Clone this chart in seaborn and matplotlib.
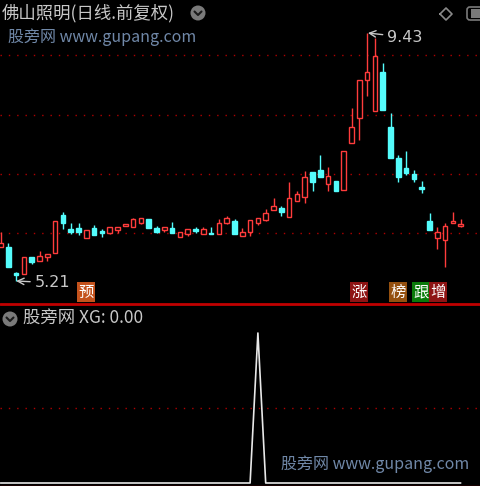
import numpy as np
import pandas as pd
import matplotlib
matplotlib.use("Agg")
import matplotlib.pyplot as plt
from matplotlib.patches import Ellipse, Rectangle, FancyBboxPatch
from matplotlib.lines import Line2D
import seaborn as sns

# Daily OHLC for 佛山照明 (forward-adjusted)
opens = [5.79, 5.79, 5.35, 5.33, 5.62, 5.55, 5.62, 5.68, 6.33, 6.09,
         6.11, 5.94, 6.11, 6.06, 6.03, 6.08, 6.15, 6.13, 6.20, 6.27,
         6.11, 6.08, 6.11, 5.96, 6.01, 6.09, 6.01, 6.03, 6.01, 6.20,
         6.23, 5.98, 6.04, 6.20, 6.25, 6.42, 6.45, 6.30, 6.57, 6.64,
         7.06, 7.10, 6.86, 6.91, 6.76, 7.56, 7.98, 8.63, 8.10, 8.77,
         7.83, 7.30, 7.13, 7.03, 6.81, 6.23, 5.94, 5.91, 6.20, 6.15]
highs = [6.04, 5.86, 5.36, 5.62, 5.62, 5.72, 5.67, 6.23, 6.38, 6.20,
         6.20, 6.08, 6.16, 6.09, 6.13, 6.13, 6.18, 6.28, 6.28, 6.27,
         6.15, 6.13, 6.21, 6.04, 6.09, 6.13, 6.13, 6.13, 6.27, 6.32,
         6.27, 6.11, 6.25, 6.28, 6.43, 6.62, 6.49, 6.89, 6.74, 7.08,
         7.06, 7.35, 7.15, 6.91, 7.42, 8.15, 8.63, 9.43, 9.34, 8.92,
         8.07, 7.35, 7.42, 7.10, 6.91, 6.37, 6.13, 6.20, 6.38, 6.27]
lows = [5.79, 5.45, 5.21, 5.33, 5.50, 5.55, 5.55, 5.68, 6.09, 6.01,
        5.99, 5.94, 5.99, 5.96, 6.01, 6.03, 6.15, 6.13, 6.18, 6.11,
        6.03, 6.04, 6.03, 5.96, 5.98, 6.03, 6.01, 6.01, 6.01, 6.18,
        6.01, 5.98, 5.98, 6.16, 6.23, 6.42, 6.32, 6.30, 6.57, 6.54,
        6.74, 6.98, 6.74, 6.74, 6.76, 7.56, 7.61, 8.36, 8.10, 8.12,
        7.30, 6.89, 7.01, 6.89, 6.71, 6.08, 5.76, 5.45, 6.20, 6.13]
closes = [5.86, 5.45, 5.31, 5.62, 5.53, 5.63, 5.67, 6.23, 6.20, 6.04,
          6.04, 6.08, 5.99, 6.03, 6.13, 6.13, 6.18, 6.27, 6.28, 6.11,
          6.04, 6.13, 6.03, 6.04, 6.09, 6.06, 6.09, 6.01, 6.20, 6.28,
          6.01, 6.04, 6.25, 6.28, 6.37, 6.49, 6.38, 6.62, 6.69, 6.98,
          6.89, 6.98, 7.00, 6.74, 7.42, 7.83, 8.63, 8.77, 9.04, 8.12,
          7.30, 6.98, 7.05, 6.95, 6.78, 6.08, 6.04, 6.15, 6.23, 6.18]

# XG signal line
xg = [0] * 60
xg[33] = 1

# Event tags below the candles: (day, label, colour)
tag_days = [11, 46, 51, 53.9, 56.1]
tag_texts = ["预", "涨", "榜", "跟", "增"]
tag_colors = ["#c4521c", "#8e1414", "#94500f", "#0a7a0a", "#8e1414"]

grid_prices = [9.06, 8.04, 7.03, 6.03]

UP = "#ff3c3c"
DOWN = "#54fcfc"
GRID = "#b00000"
TXT = "#c8c8c8"
WM = "#7088a8"

sns.set_style("dark", {"axes.facecolor": "black", "figure.facecolor": "black"})
plt.rcParams["font.family"] = ["Noto Sans CJK SC", "DejaVu Sans"]

W, H = 480, 486
fig = plt.figure(figsize=(W / 100, H / 100), dpi=100, facecolor="black")


def fx(x):
    return x / W


def fy(y):
    return 1 - y / H


# ---------- price panel ----------
ax = fig.add_axes([0, fy(303), 1, 303 / H])
ax.set_facecolor("black")
x0 = -0.5 / 7.8
ax.set_xlim(x0, x0 + W / 7.8)
ax.set_ylim(9.9915 - 0.017016 * 303, 9.9915)
ax.axis("off")

for p in grid_prices:
    ax.axhline(p, color=GRID, lw=1.0, ls=(0, (1, 5)), zorder=0)

df = pd.DataFrame({"day": np.arange(len(opens)), "open": opens, "high": highs,
                   "low": lows, "close": closes})
for r in df.itertuples():
    up = r.close >= r.open
    col = UP if up else DOWN
    ax.vlines(r.day, r.low, r.high, color=col, lw=1.0, zorder=1)
    lo, hi = min(r.open, r.close), max(r.open, r.close)
    h = max(hi - lo, 0.02)
    ax.bar(r.day, h, bottom=lo, width=0.6,
           facecolor="black" if up else col, edgecolor=col, lw=1.0, zorder=2)

# high / low markers
ax.annotate("9.43", xy=(47.1, 9.43), xytext=(49.6, 9.36), color=TXT,
            fontsize=11.5, fontfamily="DejaVu Sans", va="center", ha="left",
            arrowprops=dict(arrowstyle="->", color=TXT, lw=1.0,
                            shrinkA=1, shrinkB=0))
ax.annotate("5.21", xy=(2.0, 5.21), xytext=(4.4, 5.18), color=TXT,
            fontsize=11.5, fontfamily="DejaVu Sans", va="center", ha="left",
            arrowprops=dict(arrowstyle="->", color=TXT, lw=1.0,
                            shrinkA=1, shrinkB=0))

# event tags
ytag = 9.9915 - 0.017016 * 292
for d, s, c in zip(tag_days, tag_texts, tag_colors):
    ax.text(d, ytag, s, color="white", fontsize=11, ha="center", va="center",
            bbox=dict(boxstyle="square,pad=0.08", fc=c, ec="none"), zorder=5)

# ---------- XG panel ----------
ax2 = fig.add_axes([0, 0, 1, (H - 305) / H])
ax2.set_facecolor("black")
ax2.set_xlim(x0, x0 + W / 7.8)
ax2.set_ylim(-(486 - 483) / 150, (483 - 305) / 150)
ax2.axis("off")
ax2.axhline(0.5, color=GRID, lw=1.0, ls=(0, (1, 5)), zorder=0)
sig = pd.DataFrame({"day": np.arange(len(xg)), "XG": xg})
sns.lineplot(data=sig, x="day", y="XG", ax=ax2, color="#e8e8e8", lw=1.2,
             legend=False)

# ---------- frame decorations ----------
fig.add_artist(Line2D([0, 1], [fy(303.5), fy(303.5)], transform=fig.transFigure,
                      color="#c00000", lw=2))
fig.add_artist(Line2D([0, 1], [fy(485.5), fy(485.5)], transform=fig.transFigure,
                      color="#800000", lw=1))

fig.text(fx(2), fy(13), "佛山照明(日线.前复权)", color=TXT, fontsize=12.5,
         va="center", ha="left")
fig.text(fx(8), fy(37), "股旁网 www.gupang.com", color=WM, fontsize=11.5,
         va="center", ha="left")
fig.text(fx(281), fy(464), "股旁网 www.gupang.com", color=WM, fontsize=11.5,
         va="center", ha="left")
fig.text(fx(23), fy(318), "股旁网 XG: 0.00", color=TXT, fontsize=12.5,
         va="center", ha="left")


def chevron_button(cx, cy, r):
    fig.add_artist(Ellipse((fx(cx), fy(cy)), 2 * r / W, 2 * r / H,
                           transform=fig.transFigure, fc="#7a7a7a", ec="none"))
    fig.add_artist(Line2D([fx(cx - 3.5), fx(cx), fx(cx + 3.5)],
                          [fy(cy - 1.5), fy(cy + 2), fy(cy - 1.5)],
                          transform=fig.transFigure, color="#1a1a1a", lw=1.5))


chevron_button(198, 13, 7.5)
chevron_button(10, 319, 7.5)

# diamond and panel toggle at top right
fig.add_artist(Line2D([fx(440), fx(446), fx(452), fx(446), fx(440)],
                      [fy(14), fy(8), fy(14), fy(20), fy(14)],
                      transform=fig.transFigure, color="#8a8a8a", lw=1.2))
fig.add_artist(FancyBboxPatch((fx(467), fy(20)), 20 / W, 13 / H,
                              boxstyle="round,pad=0,rounding_size=0.006",
                              transform=fig.transFigure, fc="none",
                              ec="#7a7a7a", lw=1.2))
fig.add_artist(Rectangle((fx(471), fy(18)), 9 / W, 9 / H,
                         transform=fig.transFigure, fc="#7a7a7a", ec="none"))

fig.savefig("out.png", dpi=100, facecolor="black")
